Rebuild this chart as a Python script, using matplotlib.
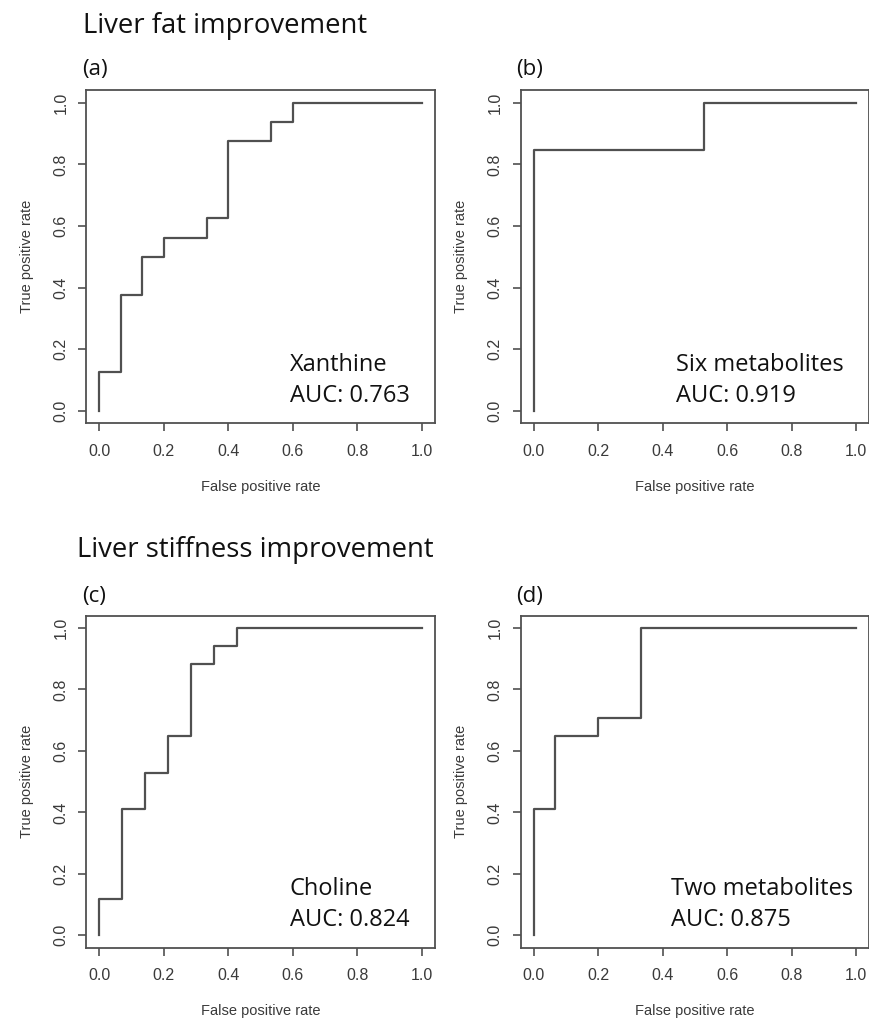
import numpy as np
import matplotlib
matplotlib.use("Agg")
import matplotlib.pyplot as plt

# ROC curve corner points (false positive rate, true positive rate)
fpr_a = [0, 0, 1/15, 1/15, 2/15, 2/15, 3/15, 3/15, 5/15, 5/15, 6/15, 6/15, 8/15, 8/15, 9/15, 9/15, 1]
tpr_a = [0, 2/16, 2/16, 6/16, 6/16, 8/16, 8/16, 9/16, 9/16, 10/16, 10/16, 14/16, 14/16, 15/16, 15/16, 1, 1]

fpr_b = [0, 0, 0.527, 0.527, 1]
tpr_b = [0, 0.846, 0.846, 1, 1]

fpr_c = [0, 0, 1/14, 1/14, 2/14, 2/14, 3/14, 3/14, 4/14, 4/14, 5/14, 5/14, 6/14, 6/14, 1]
tpr_c = [0, 2/17, 2/17, 7/17, 7/17, 9/17, 9/17, 11/17, 11/17, 15/17, 15/17, 16/17, 16/17, 1, 1]

fpr_d = [0, 0, 1/15, 1/15, 3/15, 3/15, 5/15, 5/15, 1]
tpr_d = [0, 7/17, 7/17, 11/17, 11/17, 12/17, 12/17, 1, 1]

panel_tags = ["(a)", "(b)", "(c)", "(d)"]
names = ["Xanthine", "Six metabolites", "Choline", "Two metabolites"]
aucs = ["0.763", "0.919", "0.824", "0.875"]
name_x = [0.592, 0.44, 0.59, 0.425]
section_titles = ["Liver fat improvement", "Liver stiffness improvement"]
ticks = [0.0, 0.2, 0.4, 0.6, 0.8, 1.0]

W, H = 870, 1021
fig = plt.figure(figsize=(W / 100, H / 100), dpi=100)
plt.rcParams['font.family'] = ['Liberation Sans', 'DejaVu Sans']

line_col = '#505050'
text_col = '#3a3a3a'

def add_ax(left, right, top, bottom):
    return fig.add_axes([left / W, 1 - bottom / H, (right - left) / W, (bottom - top) / H])

# pixel boxes: left, right, top, bottom
boxes = [(86.4, 434.6, 90.4, 423.3),
         (520.8, 869.0, 90.4, 423.3),
         (86.4, 434.6, 615.7, 947.6),
         (520.8, 869.0, 615.7, 947.6)]
curves = [(fpr_a, tpr_a), (fpr_b, tpr_b), (fpr_c, tpr_c), (fpr_d, tpr_d)]

for i, (box, (fx, ty)) in enumerate(zip(boxes, curves)):
    ax = add_ax(*box)
    ax.plot(fx, ty, color=line_col, lw=1.6)
    ax.set_xlim(-0.04, 1.04)
    ax.set_ylim(-0.04, 1.04)
    ax.set_xticks(ticks)
    ax.set_yticks(ticks)
    ax.set_xticklabels([f"{t:.1f}" for t in ticks])
    ax.set_yticklabels([f"{t:.1f}" for t in ticks], rotation=90, va='center')
    ax.tick_params(length=6, width=1.2, color=line_col, labelcolor=text_col,
                   labelsize=11.5)
    ax.tick_params(axis='x', pad=9)
    ax.tick_params(axis='y', pad=7)
    for s in ax.spines.values():
        s.set_color(line_col)
        s.set_linewidth(1.3)
    ax.set_xlabel("False positive rate", fontsize=10.5, color=text_col, labelpad=15)
    ax.set_ylabel("True positive rate", fontsize=10.5, color=text_col, labelpad=14)
    ax.text(name_x[i], 0.13, names[i], fontsize=17, family='Open Sans',
            color='#111111', va='baseline', ha='left')
    ax.text(name_x[i], 0.03, "AUC: " + aucs[i], fontsize=17, family='Open Sans',
            color='#111111', va='baseline', ha='left')

# section titles and panel tags
fig.text(83 / W, 1 - 33 / H, section_titles[0], fontsize=19.8, family='Open Sans',
         color='#111111', va='baseline')
fig.text(77 / W, 1 - 556.7 / H, section_titles[1], fontsize=19.8, family='Open Sans',
         color='#111111', va='baseline')
tag_pos = [(82, 75), (516, 75), (82, 601.7), (516, 601.7)]
for tag, (px, py) in zip(panel_tags, tag_pos):
    fig.text(px / W, 1 - py / H, tag, fontsize=16, family='Open Sans',
             color='#111111', va='baseline')

fig.savefig("out.png", dpi=100, facecolor='white')
